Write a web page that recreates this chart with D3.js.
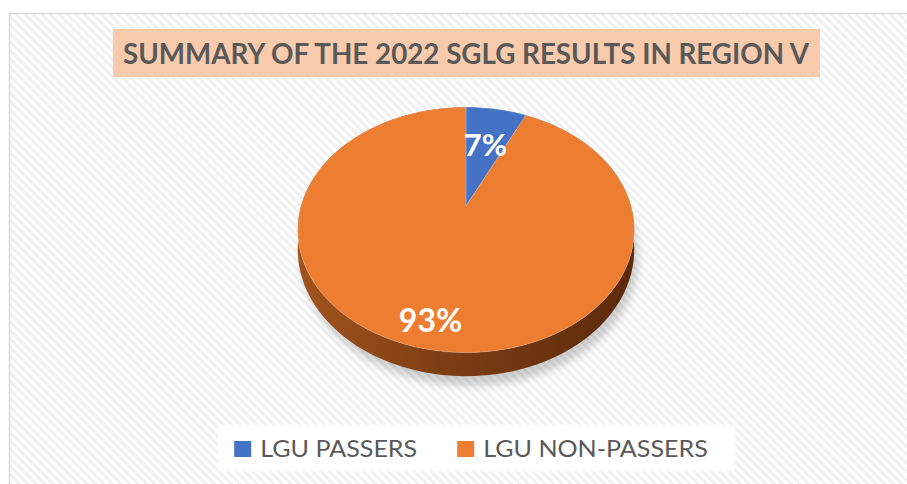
<!DOCTYPE html>
<html>
<head>
<meta charset="utf-8">
<script src="https://d3js.org/d3.v7.min.js"></script>
<style>
  body { margin: 0; background: #fff; }
  text { font-family: Lato, "Open Sans", sans-serif; }
</style>
</head>
<body>
<script>
// data
const categories = ["LGU PASSERS", "LGU NON-PASSERS"];
const shares = [7, 93];
const colors = ["#4472C4", "#ED7D31"];
const chartTitle = "SUMMARY OF THE 2022 SGLG RESULTS IN REGION V";

const width = 907, height = 484;

// pie geometry (perspective tilt like the excel 3d pie)
const cx = 466, cy = 206;
const RX = 165, RY = 118, K = 0.195, DEPTH = 19;
const labelR = [0.6, 0.83];

const svg = d3.select("body").append("svg")
    .attr("width", width)
    .attr("height", height);

const defs = svg.append("defs");

// diagonal stripes in the background
const pat = defs.append("pattern")
    .attr("id", "stripes")
    .attr("patternUnits", "userSpaceOnUse")
    .attr("width", 6).attr("height", 6)
    .attr("patternTransform", "rotate(-45)");
pat.append("rect").attr("width", 6).attr("height", 6).attr("fill", "#ffffff");
pat.append("rect").attr("width", 3).attr("height", 6).attr("fill", "#f0f0f0");

const sideGrad = defs.append("linearGradient")
    .attr("id", "side")
    .attr("gradientUnits", "userSpaceOnUse")
    .attr("x1", cx - RX - 5).attr("x2", cx + RX + 5)
    .attr("y1", 0).attr("y2", 0);
sideGrad.append("stop").attr("offset", 0).attr("stop-color", "#a3541e");
sideGrad.append("stop").attr("offset", 0.45).attr("stop-color", "#7c3d13");
sideGrad.append("stop").attr("offset", 1).attr("stop-color", "#5b2a0b");

const blur = defs.append("filter").attr("id", "shadow")
    .attr("x", "-20%").attr("y", "-20%").attr("width", "140%").attr("height", "140%");
blur.append("feGaussianBlur").attr("stdDeviation", 4);

// chart area
svg.append("rect")
    .attr("x", 9.5).attr("y", 13.5)
    .attr("width", width + 20).attr("height", height + 20)
    .attr("fill", "url(#stripes)")
    .attr("stroke", "#d9d9d9")
    .attr("stroke-width", 1.5);

// title
svg.append("rect")
    .attr("x", 113).attr("y", 29)
    .attr("width", 707).attr("height", 48)
    .attr("fill", "#F8CBAD");
svg.append("text")
    .attr("x", 466).attr("y", 64)
    .attr("text-anchor", "middle")
    .attr("font-size", 28)
    .attr("font-weight", "bold")
    .attr("fill", "#595959")
    .attr("textLength", 686)
    .attr("lengthAdjust", "spacingAndGlyphs")
    .text(chartTitle);

// projection of a point on the pie (angle clockwise from top)
function project(a, r, drop) {
    const u = r * Math.sin(a), v = -r * Math.cos(a);
    const w = 1 - K * v;
    return [cx + RX * u / w, cy + (RY * v + drop) / w];
}

const arcs = d3.pie().sort(null)(shares);
const steps = 120;

function rim(a0, a1, drop) {
    const n = Math.max(2, Math.ceil(steps * (a1 - a0) / (2 * Math.PI)));
    return d3.range(n + 1).map(i => project(a0 + (a1 - a0) * i / n, 1, drop));
}

const line = d3.line();

// soft shadow under the pie
svg.append("path")
    .attr("d", line(rim(0, 2 * Math.PI, DEPTH + 6)) + "Z")
    .attr("transform", "translate(4,2)")
    .attr("fill", "#000")
    .attr("opacity", 0.18)
    .attr("filter", "url(#shadow)");

// side walls
svg.selectAll("path.side")
    .data(arcs)
    .join("path")
    .attr("class", "side")
    .attr("d", d => line(rim(d.startAngle, d.endAngle, 0)
        .concat(rim(d.startAngle, d.endAngle, DEPTH).reverse())) + "Z")
    .attr("fill", (d, i) => i === 1 ? "url(#side)" : d3.color(colors[i]).darker(1.2));

// top faces
svg.selectAll("path.top")
    .data(arcs)
    .join("path")
    .attr("class", "top")
    .attr("d", d => line([project(0, 0, 0)].concat(rim(d.startAngle, d.endAngle, 0))) + "Z")
    .attr("fill", (d, i) => colors[i])
    .attr("stroke", "rgba(255,255,255,0.25)")
    .attr("stroke-width", 0.8);

// percentage labels
const total = d3.sum(shares);
svg.selectAll("text.pct")
    .data(arcs)
    .join("text")
    .attr("class", "pct")
    .attr("x", (d, i) => project((d.startAngle + d.endAngle) / 2, labelR[i], 0)[0])
    .attr("y", (d, i) => project((d.startAngle + d.endAngle) / 2, labelR[i], 0)[1])
    .attr("text-anchor", "middle")
    .attr("dominant-baseline", "central")
    .attr("font-size", (d, i) => i === 0 ? 31 : 32)
    .attr("font-weight", "bold")
    .attr("fill", "#fff")
    .text(d => Math.round(d.data / total * 100) + "%");

// legend
svg.append("rect")
    .attr("x", 218).attr("y", 425)
    .attr("width", 517).attr("height", 46)
    .attr("fill", "#fff");

// legend font is wider than what we have, stretch it to the same width
const legendFs = 23, stretch = 1.09, gap = 40;
const legend = svg.append("g");
let lx = 0;
categories.forEach((c, i) => {
    const g = legend.append("g").attr("transform", `translate(${lx},0)`);
    g.append("rect")
        .attr("x", 0).attr("y", 441)
        .attr("width", 17).attr("height", 16)
        .attr("fill", colors[i]);
    const t = g.append("text")
        .attr("x", 26).attr("y", 457)
        .attr("font-family", "'Open Sans', sans-serif")
        .attr("font-size", legendFs)
        .attr("fill", "#595959")
        .text(c);
    const w = t.node().getComputedTextLength() * stretch;
    t.attr("textLength", w).attr("lengthAdjust", "spacingAndGlyphs");
    lx += 26 + w + gap;
});
lx -= gap;
legend.attr("transform", `translate(${471 - lx / 2},0)`);
</script>
</body>
</html>
